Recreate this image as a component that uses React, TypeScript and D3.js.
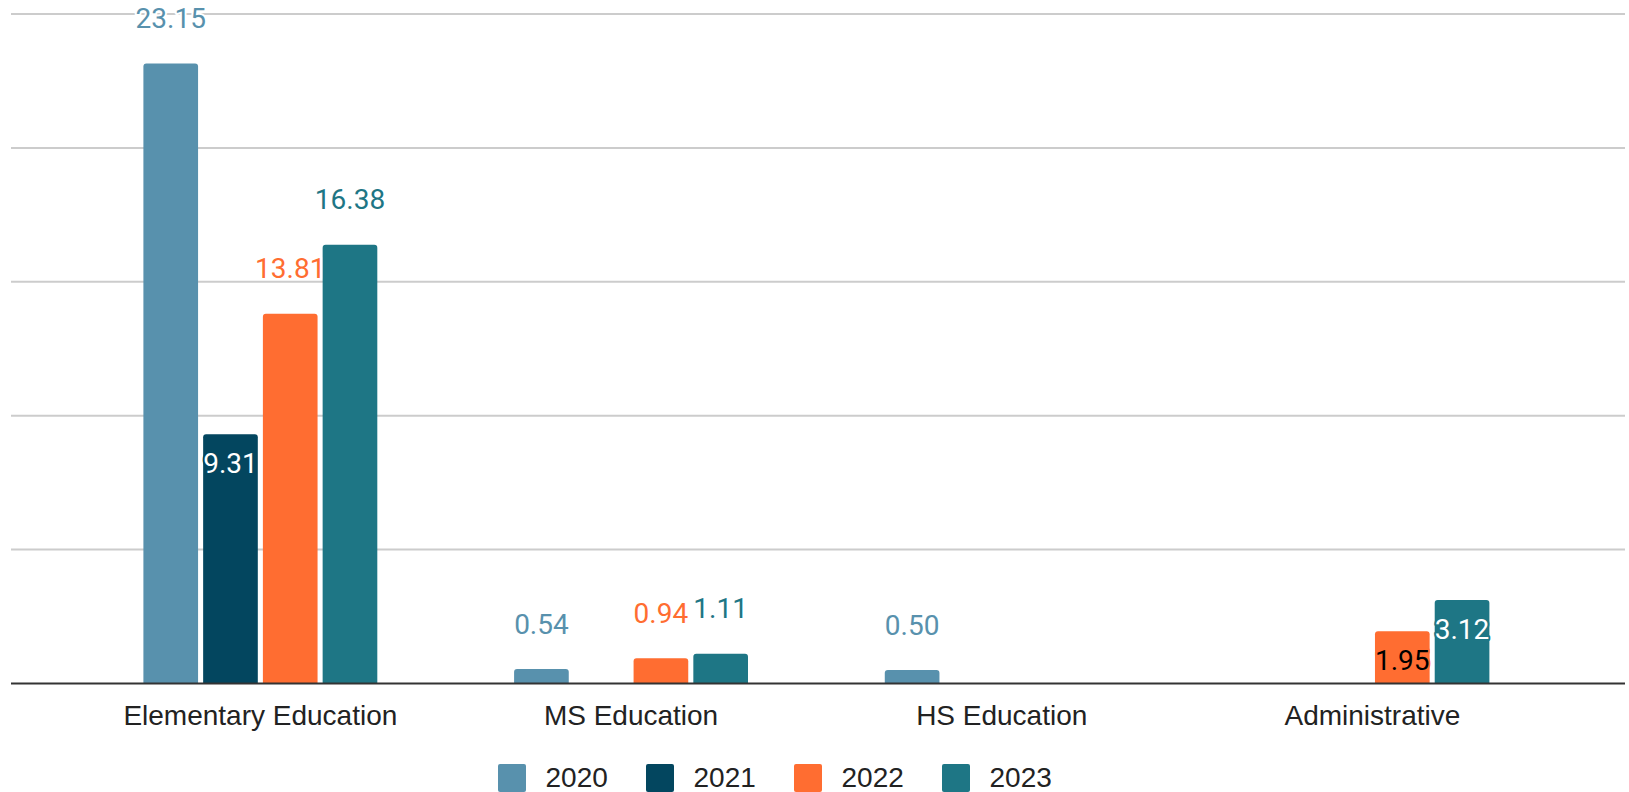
import React from "react";
import * as d3 from "d3";

const categories = ["Elementary Education", "MS Education", "HS Education", "Administrative"];
const years = ["2020", "2021", "2022", "2023"];
const values2020: (number | null)[] = [23.15, 0.54, 0.5, null];
const values2021: (number | null)[] = [9.31, null, null, null];
const values2022: (number | null)[] = [13.81, 0.94, null, 1.95];
const values2023: (number | null)[] = [16.38, 1.11, null, 3.12];
const yTicks = [0, 5, 10, 15, 20, 25];
const seriesColors = ["#5891AD", "#03465F", "#FF6D31", "#1E7685"];
const insideLabels = ["Elementary Education|2021", "Administrative|2022", "Administrative|2023"];

const W = 1629;
const H = 792;
const LEFT = 11;
const RIGHT = 1625;
const TOP = 14;
const BOTTOM = 683.5;
const labelFont = "Roboto, 'Noto Sans', sans-serif";
const axisFont = "'Liberation Sans', Arial, sans-serif";

function topRoundedRect(x: number, y: number, w: number, h: number, r: number) {
  const rr = Math.min(r, h, w / 2);
  const p = d3.path();
  p.moveTo(x, y + h);
  p.lineTo(x, y + rr);
  p.quadraticCurveTo(x, y, x + rr, y);
  p.lineTo(x + w - rr, y);
  p.quadraticCurveTo(x + w, y, x + w, y + rr);
  p.lineTo(x + w, y + h);
  p.closePath();
  return p.toString();
}

export default function App() {
  const series = [values2020, values2021, values2022, values2023];

  const x0 = d3
    .scaleBand<string>()
    .domain(categories)
    .range([LEFT, RIGHT])
    .paddingInner(0.369)
    .paddingOuter(0.3615)
    .align(0.494);
  const x1 = d3.scaleBand<string>().domain(years).range([0, x0.bandwidth()]).paddingInner(0.085);
  const y = d3.scaleLinear().domain([0, 25]).range([BOTTOM, TOP]);
  const color = d3.scaleOrdinal<string, string>().domain(years).range(seriesColors);
  const fmt = d3.format(".2f");

  const bars: any[] = [];
  categories.forEach((cat, ci) => {
    years.forEach((yr, si) => {
      const v = series[si][ci];
      if (v == null) return;
      const bx = (x0(cat) as number) + (x1(yr) as number);
      const bw = x1.bandwidth();
      const top = y(v);
      const inside = insideLabels.includes(cat + "|" + yr);
      bars.push({ cat, yr, v, bx, bw, top, inside });
    });
  });

  const legendStart = 498;
  const legendStep = 148;

  return (
    <div style={{ position: "absolute", left: 0, top: 0 }}>
      <svg width={W} height={H} style={{ display: "block", background: "#fff" }}>
        {yTicks
          .filter((t) => t !== 0)
          .map((t) => (
            <line key={t} x1={LEFT} x2={RIGHT} y1={y(t)} y2={y(t)} stroke="#cccccc" strokeWidth={2} />
          ))}
        {bars.map((b) => (
          <path
            key={b.cat + b.yr}
            d={topRoundedRect(b.bx, b.top, b.bw, y(0) - b.top, 3)}
            fill={color(b.yr)}
          />
        ))}
        <line x1={LEFT} x2={RIGHT} y1={y(0)} y2={y(0)} stroke="#333333" strokeWidth={2} />
        {bars.map((b) => {
          const c = color(b.yr);
          const light = d3.lab(c).l > 55;
          const fill = b.inside ? (light ? "#000000" : "#ffffff") : c;
          const halo = b.inside ? c : "#ffffff";
          return (
            <text
              key={"l" + b.cat + b.yr}
              x={b.bx + b.bw / 2}
              y={b.inside ? b.top + 39 : b.top - 35.5}
              textAnchor="middle"
              fontFamily={labelFont}
              fontSize={28}
              fill={fill}
              stroke={halo}
              strokeWidth={4}
              strokeLinejoin="round"
              paintOrder="stroke"
            >
              {fmt(b.v)}
            </text>
          );
        })}
        {categories.map((cat) => (
          <text
            key={"c" + cat}
            x={(x0(cat) as number) + x0.bandwidth() / 2}
            y={725}
            textAnchor="middle"
            fontFamily={axisFont}
            fontSize={28}
            fill="#222222"
          >
            {cat}
          </text>
        ))}
        {years.map((yr, i) => (
          <g key={"lg" + yr} transform={`translate(${legendStart + i * legendStep},764)`}>
            <rect x={0} y={0} width={28} height={28} rx={2} fill={color(yr)} />
            <text x={47.5} y={22.6} fontFamily={axisFont} fontSize={28} fill="#222222">
              {yr}
            </text>
          </g>
        ))}
      </svg>
    </div>
  );
}
